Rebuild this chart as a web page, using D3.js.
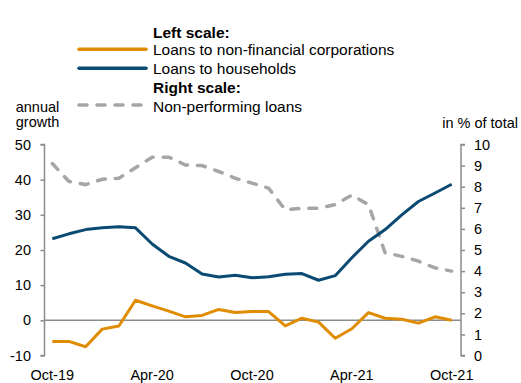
<!DOCTYPE html>
<html><head><meta charset="utf-8">
<script src="https://cdn.jsdelivr.net/npm/d3@7"></script>
<style>
body{margin:0;background:#fff;}
svg{display:block;font-family:"Liberation Sans",Arial,sans-serif;}
</style></head>
<body>
<svg id="c" width="521" height="383"></svg>
<script>
const months = ["Oct-19","Nov-19","Dec-19","Jan-20","Feb-20","Mar-20","Apr-20","May-20","Jun-20","Jul-20","Aug-20","Sep-20","Oct-20","Nov-20","Dec-20","Jan-21","Feb-21","Mar-21","Apr-21","May-21","Jun-21","Jul-21","Aug-21","Sep-21","Oct-21"];
const corporations = [-6.0,-6.0,-7.5,-2.5,-1.6,5.7,4.1,2.6,1.0,1.4,3.1,2.2,2.5,2.5,-1.6,0.6,-0.5,-5.1,-2.4,2.2,0.6,0.3,-0.8,1.0,0.0];
const households = [23.2,24.6,25.8,26.3,26.6,26.3,21.7,18.2,16.3,13.2,12.3,12.8,12.1,12.4,13.1,13.3,11.4,12.7,17.8,22.5,25.8,30.0,33.8,36.2,38.7];
const npl = [9.1,8.25,8.1,8.35,8.4,8.9,9.4,9.4,9.03,9.0,8.72,8.4,8.17,7.93,6.9,6.98,6.98,7.15,7.6,7.15,4.87,4.7,4.47,4.15,4.0];
const xTickLabels = ["Oct-19","Apr-20","Oct-20","Apr-21","Oct-21"];
const leftTicks = [-10,0,10,20,30,40,50];
const rightTicks = [0,1,2,3,4,5,6,7,8,9,10];

const svg = d3.select("#c");
const x = d3.scalePoint().domain(months).range([52.3, 451.7]);
const yL = d3.scaleLinear().domain([-10,50]).range([355.5,144.5]);
const yR = d3.scaleLinear().domain([0,10]).range([355.5,144.5]);
const axisColor = "#8c8c8c";
const axFont = "14.5px", lgFont = "15.5px";
const fmt = d => String(d);

// left axis
const gL = svg.append("g").attr("transform","translate(44.5,0)")
  .call(d3.axisLeft(yL).tickValues(leftTicks).tickSize(4).tickPadding(9.5).tickFormat(fmt));
// right axis
const gR = svg.append("g").attr("transform","translate(461,0)")
  .call(d3.axisRight(yR).tickValues(rightTicks).tickSize(4).tickPadding(9).tickFormat(fmt));
[gL,gR].forEach(g=>{
  g.select(".domain").attr("stroke",axisColor).attr("stroke-width",1.5);
  g.selectAll(".tick line").attr("stroke",axisColor).attr("stroke-width",1.5);
  g.selectAll(".tick text").attr("fill","#000").attr("font-size",axFont).attr("font-family","Liberation Sans, Arial, sans-serif");
});
gL.select(".domain").attr("d","M-4,"+yL(50)+"H0V"+yL(-10)+"H-4");
gR.select(".domain").attr("d","M4,"+yR(10)+"H0V"+yR(0)+"H4");

// zero line
svg.append("line").attr("x1",44.5).attr("x2",461).attr("y1",yL(0)).attr("y2",yL(0))
  .attr("stroke",axisColor).attr("stroke-width",1.5);

// x labels
svg.append("g").selectAll("text").data(xTickLabels).join("text")
  .attr("x",d=>x(d)).attr("y",379.5).attr("text-anchor","middle")
  .attr("font-size",axFont).attr("fill","#000").text(d=>d);

// lines
const lineL = d3.line().x((d,i)=>x(months[i])).y(d=>yL(d));
const lineR = d3.line().x((d,i)=>x(months[i])).y(d=>yR(d));
const orange = "#E08C00", blue = "#0B4A72", gray = "#A6A6A6";
svg.append("path").attr("d",lineR(npl)).attr("fill","none").attr("stroke",gray)
  .attr("stroke-width",3.5).attr("stroke-dasharray","8,10").attr("stroke-linecap","round");
svg.append("path").attr("d",lineL(households)).attr("fill","none").attr("stroke",blue)
  .attr("stroke-width",3).attr("stroke-linejoin","round");
svg.append("path").attr("d",lineL(corporations)).attr("fill","none").attr("stroke",orange)
  .attr("stroke-width",3).attr("stroke-linejoin","round");

// legend
const lg = svg.append("g");
const txt = (xx,yy,t,bold,anchor,fs)=>lg.append("text").attr("x",xx).attr("y",yy)
  .attr("font-size",fs||lgFont).attr("font-weight",bold?"bold":"normal")
  .attr("text-anchor",anchor||"start").attr("fill","#000").text(t);
txt(153,37.5,"Left scale:",true);
lg.append("line").attr("x1",79).attr("x2",146).attr("y1",49.3).attr("y2",49.3).attr("stroke",orange).attr("stroke-width",3.5).attr("stroke-linecap","round");
txt(153,54.5,"Loans to non-financial corporations");
lg.append("line").attr("x1",79).attr("x2",146).attr("y1",68.3).attr("y2",68.3).attr("stroke",blue).attr("stroke-width",3.5).attr("stroke-linecap","round");
txt(153,73.5,"Loans to households");
txt(153,92.5,"Right scale:",true);
lg.append("line").attr("x1",79).attr("x2",146).attr("y1",105).attr("y2",105).attr("stroke",gray).attr("stroke-width",3.5)
  .attr("stroke-dasharray","8,10").attr("stroke-linecap","round");
txt(153,111.5,"Non-performing loans");

txt(37.5,111.5,"annual",false,"middle",axFont);
txt(37.5,126.5,"growth",false,"middle",axFont);
txt(518,127.5,"in % of total",false,"end",axFont);
</script>
</body></html>
